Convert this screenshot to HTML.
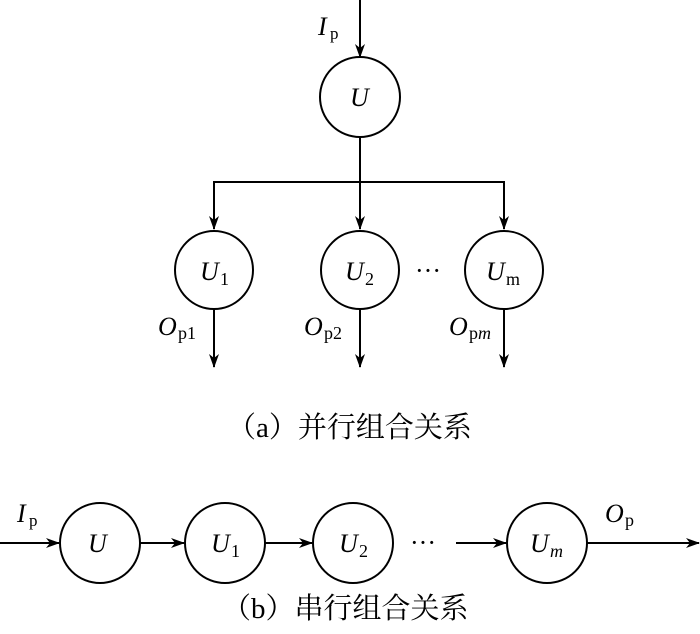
<!DOCTYPE html>
<html><head><meta charset="utf-8"><style>
body{margin:0;background:#fff}
svg{display:block}
.t{font-family:"Liberation Serif","Noto Serif CJK SC",serif;fill:#000}
</style></head><body>
<svg width="700" height="634" viewBox="0 0 700 634" xmlns="http://www.w3.org/2000/svg">
<defs><marker id="a" markerWidth="14" markerHeight="10" refX="13" refY="5" orient="auto" markerUnits="userSpaceOnUse"><path d="M0,0 L14,5 L0,10 L4,5 Z" fill="#000"/></marker></defs>
<g stroke="#000" stroke-width="2" fill="none">
<line x1="360" y1="0" x2="360" y2="57" marker-end="url(#a)"/>
<circle cx="360" cy="97" r="40"/>
<line x1="360" y1="137" x2="360" y2="229" marker-end="url(#a)"/>
<polyline points="214,229 214,182 504,182 504,229" marker-end="url(#a)"/>
<line x1="214" y1="182" x2="214" y2="229" marker-end="url(#a)"/>
<circle cx="214" cy="270" r="39"/>
<circle cx="360" cy="270" r="39"/>
<circle cx="504" cy="270" r="39"/>
<line x1="214" y1="309" x2="214" y2="367" marker-end="url(#a)"/>
<line x1="360" y1="309" x2="360" y2="367" marker-end="url(#a)"/>
<line x1="504" y1="309" x2="504" y2="367" marker-end="url(#a)"/>
<line x1="0" y1="543" x2="59" y2="543" marker-end="url(#a)"/>
<circle cx="100" cy="543" r="40"/>
<line x1="140" y1="543" x2="184" y2="543" marker-end="url(#a)"/>
<circle cx="225" cy="543" r="40"/>
<line x1="265" y1="543" x2="312" y2="543" marker-end="url(#a)"/>
<circle cx="353" cy="543" r="40"/>
<line x1="456" y1="543" x2="506" y2="543" marker-end="url(#a)"/>
<circle cx="547" cy="543" r="40"/>
<line x1="587" y1="543" x2="699" y2="543" marker-end="url(#a)"/>
</g>
<g class="t" font-size="26">
<text x="318" y="35" font-style="italic">I</text><text x="330" y="39" font-size="17">p</text>
<text x="350" y="106" font-style="italic">U</text>
<text x="200" y="280" font-style="italic">U</text><text x="220" y="285" font-size="18">1</text>
<text x="345" y="280" font-style="italic">U</text><text x="365" y="285" font-size="18">2</text>
<text x="486" y="280" font-style="italic">U</text><text x="506" y="285" font-size="18">m</text><text x="490" y="285" font-size="18" fill="none"></text>
<text x="415" y="279">···</text>
<text x="158" y="335" font-style="italic">O</text><text x="178" y="339" font-size="18">p1</text>
<text x="304" y="335" font-style="italic">O</text><text x="324" y="339" font-size="18">p2</text>
<text x="449" y="335" font-style="italic">O</text><text x="469" y="339" font-size="18">p<tspan font-style="italic">m</tspan></text>
<text x="227" y="437" font-size="29">（a）并行组合关系</text>
<text x="17" y="522" font-style="italic">I</text><text x="29" y="526" font-size="17">p</text>
<text x="88" y="552" font-style="italic">U</text>
<text x="211" y="552" font-style="italic">U</text><text x="231" y="557" font-size="18">1</text>
<text x="339" y="552" font-style="italic">U</text><text x="359" y="557" font-size="18">2</text>
<text x="530" y="552" font-style="italic">U</text><text x="550" y="557" font-size="18" font-style="italic">m</text>
<text x="410" y="551">···</text>
<text x="605" y="522" font-style="italic">O</text><text x="625" y="526" font-size="18">p</text>
<text x="222" y="618" font-size="29">（b）串行组合关系</text>
</g>
</svg>
</body></html>
